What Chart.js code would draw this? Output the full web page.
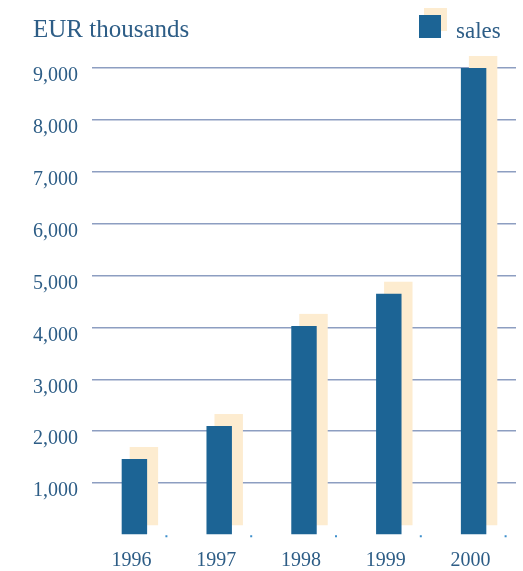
<!DOCTYPE html>
<html lang="en">
<head>
    <meta charset="UTF-8">
    <title>Sales</title>
    <script src="https://cdn.jsdelivr.net/npm/chart.js"></script>
    <style>
        html, body {
            margin: 0;
            padding: 0;
            background-color: #ffffff;
        }
        #wrap {
            width: 523px;
            height: 571px;
        }
    </style>
</head>
<body>
    <div id="wrap"><canvas id="grafico"></canvas></div>

    <script>
        // data
        const years = ['1996', '1997', '1998', '1999', '2000'];
        const sales = [1465, 2100, 4030, 4650, 9000];
        const unitLabel = 'EUR thousands';
        const seriesLabel = 'sales';

        const blue = '#1c6495';
        const cream = '#fdecd0';
        const textColor = '#2d5d86';
        const gridColor = '#8d9ec1';
        const serif = "'Liberation Serif', 'DejaVu Serif', serif";

        // cream block behind each bar, a little to the right and up
        const shadowPlugin = {
            id: 'shadow',
            beforeDatasetsDraw(chart) {
                const ctx = chart.ctx;
                ctx.save();
                ctx.fillStyle = cream;
                chart.getDatasetMeta(0).data.forEach(bar => {
                    const p = bar.getProps(['x', 'y', 'base', 'width'], true);
                    ctx.fillRect(p.x - p.width / 2 + 8, p.y - 12, p.width + 3, p.base - p.y + 3);
                });
                ctx.restore();
            },
            afterDatasetsDraw(chart) {
                // tiny dots next to each bar foot
                const ctx = chart.ctx;
                ctx.save();
                ctx.fillStyle = '#3d8fcc';
                chart.getDatasetMeta(0).data.forEach(bar => {
                    const p = bar.getProps(['x', 'base'], true);
                    ctx.fillRect(p.x + 31, p.base + 1, 2, 2);
                });
                ctx.restore();
            }
        };

        // title on the left and legend on the right
        const headerPlugin = {
            id: 'header',
            afterDraw(chart) {
                const ctx = chart.ctx;
                ctx.save();
                ctx.fillStyle = textColor;
                ctx.textBaseline = 'alphabetic';
                ctx.textAlign = 'left';
                ctx.font = '25px ' + serif;
                ctx.fillText(unitLabel, 33, 37);

                ctx.fillStyle = cream;
                ctx.fillRect(424, 8, 23, 23);
                ctx.fillStyle = chart.data.datasets[0].backgroundColor;
                ctx.fillRect(419, 15, 22, 23);
                ctx.fillStyle = textColor;
                ctx.font = '23px ' + serif;
                ctx.fillText(chart.data.datasets[0].label, 456, 38);
                ctx.restore();
            }
        };

        const ctx = document.getElementById('grafico').getContext('2d');
        new Chart(ctx, {
            type: 'bar',
            data: {
                labels: years,
                datasets: [{
                    label: seriesLabel,
                    data: sales,
                    backgroundColor: blue,
                    categoryPercentage: 1,
                    barPercentage: 0.3
                }]
            },
            options: {
                responsive: true,
                maintainAspectRatio: false,
                animation: false,
                layout: { padding: { top: 68, right: 7, left: 0, bottom: 0 } },
                plugins: {
                    legend: { display: false },
                    tooltip: { enabled: false }
                },
                scales: {
                    x: {
                        afterFit(scale) { scale.height = 36; },
                        grid: { display: false, drawTicks: false },
                        border: { display: false },
                        ticks: {
                            color: textColor,
                            font: { family: serif, size: 20 },
                            padding: 14,
                            labelOffset: -3
                        }
                    },
                    y: {
                        min: 0,
                        max: 9000,
                        afterFit(scale) { scale.width = 92; },
                        border: { display: false },
                        grid: {
                            drawTicks: false,
                            lineWidth: 1.5,
                            color: c => c.tick.value === 0 ? 'rgba(0,0,0,0)' : gridColor
                        },
                        ticks: {
                            stepSize: 1000,
                            padding: 14,
                            labelOffset: 8,
                            color: textColor,
                            font: { family: serif, size: 20 },
                            callback: v => v === 0 ? '' : v.toLocaleString('en-US')
                        }
                    }
                }
            },
            plugins: [shadowPlugin, headerPlugin]
        });
    </script>
</body>
</html>
